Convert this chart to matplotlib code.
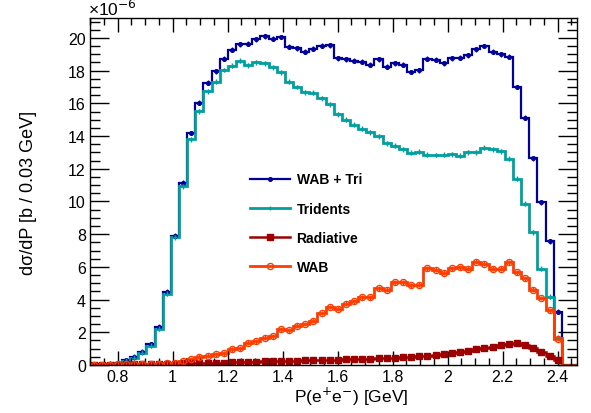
import numpy as np
import matplotlib
matplotlib.use("Agg")
import matplotlib.pyplot as plt
from matplotlib.lines import Line2D
from matplotlib.ticker import MultipleLocator

plt.rcParams['font.family'] = ['Liberation Sans', 'DejaVu Sans']

# momentum binning of the histograms (GeV)
bin_lo = 0.698
bin_width = 0.0296
n_bins = 60

# d(sigma)/dP per bin, in units of 1e-6 b
wab_tri = [0.03, 0.05, 0.08, 0.15, 0.3, 0.51, 0.82, 1.27, 2.33, 4.49,
           7.92, 11.15, 14.19, 16.04, 17.27, 17.96, 18.74, 19.27, 19.61, 19.65,
           19.92, 20.1, 19.96, 20.06, 19.45, 19.37, 19.16, 19.33, 19.53, 19.55,
           18.77, 18.69, 18.6, 18.55, 18.35, 18.7, 18.23, 18.46, 18.35, 17.92,
           18.02, 18.74, 18.66, 18.45, 18.76, 18.8, 18.93, 19.32, 19.51, 19.15,
           19.0, 18.86, 17.0, 15.12, 12.65, 9.95, 7.57, 3.26, 0, 0]
tridents = [0.01, 0.02, 0.05, 0.11, 0.25, 0.44, 0.74, 1.18, 2.22, 4.37,
            7.8, 10.94, 13.8, 15.52, 16.74, 17.31, 18.04, 18.31, 18.6, 18.34,
            18.5, 18.44, 18.22, 17.9, 17.31, 17.0, 16.68, 16.64, 16.32, 15.95,
            15.34, 14.99, 14.68, 14.45, 14.23, 13.99, 13.56, 13.41, 13.2, 12.98,
            13.03, 12.86, 12.84, 12.86, 12.88, 12.8, 13.02, 13.0, 13.29, 13.2,
            13.06, 12.61, 11.39, 9.86, 8.12, 5.88, 4.18, 1.67, 0, 0]
radiative = [0.02, 0.02, 0.03, 0.03, 0.04, 0.05, 0.05, 0.06, 0.07, 0.08,
             0.09, 0.1, 0.11, 0.12, 0.13, 0.14, 0.15, 0.16, 0.18, 0.19,
             0.2, 0.22, 0.23, 0.24, 0.26, 0.27, 0.29, 0.3, 0.31, 0.32,
             0.33, 0.34, 0.36, 0.37, 0.39, 0.41, 0.43, 0.45, 0.47, 0.5,
             0.53, 0.57, 0.61, 0.66, 0.72, 0.8, 0.88, 0.96, 1.04, 1.12,
             1.22, 1.3, 1.32, 1.22, 1.05, 0.82, 0.56, 0.28, 0, 0]
wab = [0.02, 0.02, 0.03, 0.04, 0.05, 0.06, 0.07, 0.08, 0.09, 0.11,
       0.13, 0.22, 0.37, 0.5, 0.56, 0.65, 0.72, 0.96, 1.03, 1.35,
       1.45, 1.68, 1.77, 2.18, 2.13, 2.4, 2.51, 2.71, 3.18, 3.55,
       3.43, 3.74, 3.9, 4.15, 4.15, 4.7, 4.6, 5.05, 5.05, 4.88,
       4.9, 5.92, 5.82, 5.63, 5.92, 5.98, 5.88, 6.33, 6.19, 5.88,
       5.88, 6.29, 5.68, 5.31, 4.61, 4.1, 3.35, 1.59, 0, 0]
stat_err = 0.15

edges = bin_lo + bin_width * np.arange(n_bins + 1)
centers = 0.5 * (edges[:-1] + edges[1:])

fig = plt.figure(figsize=(5.91, 4.14), dpi=100)
ax = fig.add_axes([0.1523, 0.1159, 0.824, 0.8382])

# colours close to ROOT's kBlue+2, kCyan+2, kRed+2, kOrange+7
series = [
    ("WAB + Tri", wab_tri, "#00009c", 1.6, dict(marker="o", ms=2.6, mfc="#00009c")),
    ("Tridents", tridents, "#00a0a0", 2.0, dict(marker="+", ms=3.5, mfc="#00a0a0")),
    ("Radiative", radiative, "#9c0000", 1.8, dict(marker="s", ms=4.0, mfc="#9c0000")),
    ("WAB", wab, "#ff3c00", 2.0, dict(marker="o", ms=4.4, mfc="none", mew=1.0)),
]

handles = []
for name, vals, col, lw, mk in series:
    vals = np.array(vals)
    ax.stairs(vals, edges, color=col, lw=lw, baseline=None)
    ax.plot([edges[0], edges[0]], [0, vals[0]], color=col, lw=lw)
    keep = vals > 0
    ax.errorbar(centers[keep], vals[keep], yerr=stat_err, fmt="none",
                ecolor=col, elinewidth=1.0, capsize=0)
    ax.plot(centers[keep], vals[keep], ls="none", color=col, mec=col, **mk)
    handles.append(Line2D([], [], color=col, lw=lw, **mk))

ax.set_xlim(0.7, 2.47)
ax.set_ylim(0, 21.22)

ax.xaxis.set_minor_locator(MultipleLocator(0.05))
ax.yaxis.set_major_locator(MultipleLocator(2))
ax.yaxis.set_minor_locator(MultipleLocator(0.5))
ax.set_xticks(np.arange(0.8, 2.41, 0.2))
ax.set_xticklabels(["0.8", "1", "1.2", "1.4", "1.6", "1.8", "2", "2.2", "2.4"])

ax.tick_params(axis="x", which="major", direction="in", length=10, width=1,
               top=True, labelsize=11.5, pad=3)
ax.tick_params(axis="x", which="minor", direction="in", length=5, width=1, top=True)
ax.tick_params(axis="y", which="major", direction="in", length=14, width=1,
               right=True, labelsize=11.5, pad=3)
ax.tick_params(axis="y", which="minor", direction="in", length=7, width=1, right=True)
for s in ax.spines.values():
    s.set_linewidth(1.0)

ax.set_xlabel("P(e$^{+}$e$^{-}$) [GeV]", fontsize=12.5)
ax.xaxis.set_label_coords(0.536, -0.09)
ax.xaxis.label.set_va("center")
ax.set_ylabel("d\u03c3/dP [b / 0.03 GeV]", fontsize=13)
ax.yaxis.set_label_coords(-0.127, 0.5)
ax.yaxis.label.set_va("center")

ax.text(-0.005, 1.0, "\u00d710$^{-6}$", transform=ax.transAxes,
        fontsize=12.5, ha="left", va="bottom")

ax.legend(handles, [s[0] for s in series], loc="upper left",
          bbox_to_anchor=(0.3285, 0.555), frameon=False, borderpad=0,
          borderaxespad=0, handlelength=2.9, handletextpad=0.45,
          labelspacing=1.1, prop={"weight": "bold", "size": 10})

fig.savefig("out.png", dpi=100)
